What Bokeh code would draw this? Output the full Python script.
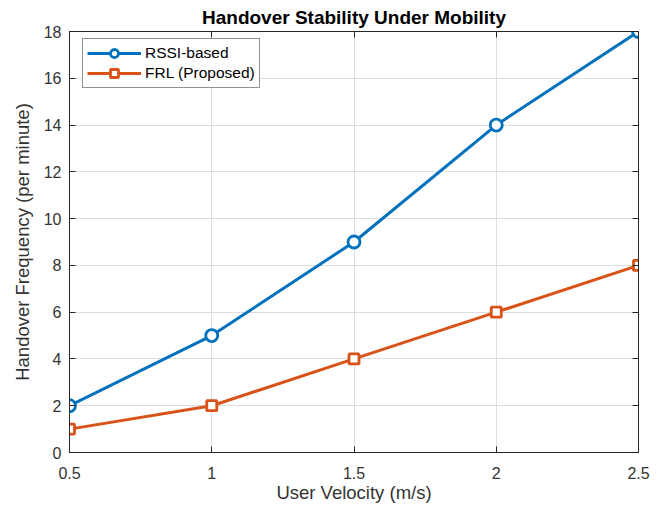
from bokeh.plotting import figure
from bokeh.models import (LinearAxis, FixedTicker, Range1d, Legend, LegendItem)
from bokeh.embed import file_html
from bokeh.resources import INLINE

velocity = [0.5, 1.0, 1.5, 2.0, 2.5]
rssi_based = [2, 5, 9, 14, 18]
frl_proposed = [1, 2, 4, 6, 8]
x_ticks = [0.5, 1, 1.5, 2, 2.5]
y_ticks = [0, 2, 4, 6, 8, 10, 12, 14, 16, 18]

BLUE = "#0072BD"
ORANGE = "#D95319"
AX = "#262626"
FONT = "Liberation Sans"

p = figure(width=660, height=507, output_backend="svg", toolbar_location=None,
           x_range=Range1d(0.5, 2.5), y_range=Range1d(0, 18),
           min_border_left=69, min_border_right=22, min_border_top=31, min_border_bottom=55)
p.background_fill_color = "white"
p.border_fill_color = "white"
p.outline_line_color = AX
p.outline_line_width = 1

p.title.text = "Handover Stability Under Mobility"
p.title.align = "center"
p.title.text_font = FONT
p.title.text_font_size = "19px"
p.title.text_font_style = "bold"
p.title.text_color = "black"
p.title.standoff = 7

def style_axis(ax, standoff=8, size="16px"):
    ax.major_tick_in = 6
    ax.major_tick_out = 0
    ax.minor_tick_in = 0
    ax.minor_tick_out = 0
    ax.axis_line_color = AX
    ax.major_tick_line_color = AX
    ax.major_label_text_font = FONT
    ax.major_label_text_color = "#333333"
    ax.major_label_text_font_size = size
    ax.major_label_standoff = standoff

p.xaxis.ticker = FixedTicker(ticks=x_ticks)
p.yaxis.ticker = FixedTicker(ticks=y_ticks)
p.xaxis.major_label_overrides = {0.5: "0.5", 1: "1", 1.5: "1.5", 2: "2", 2.5: "2.5"}
style_axis(p.xaxis[0], 14)
style_axis(p.yaxis[0], 8)
p.xaxis.axis_label = "User Velocity (m/s)"
p.yaxis.axis_label = "Handover Frequency (per minute)"
for ax in (p.xaxis[0], p.yaxis[0]):
    ax.axis_label_text_font = FONT
    ax.axis_label_text_font_size = "18.5px"
    ax.axis_label_text_font_style = "normal"
    ax.axis_label_text_color = "#333333"
p.xaxis.axis_label_standoff = 0
p.yaxis.axis_label_standoff = 8

top = LinearAxis(ticker=FixedTicker(ticks=x_ticks),
                 major_label_overrides={t: "" for t in x_ticks})
right = LinearAxis(ticker=FixedTicker(ticks=y_ticks),
                   major_label_overrides={t: "" for t in y_ticks})
style_axis(top, 0, "1px")
style_axis(right, 0, "1px")
p.add_layout(top, "above")
p.add_layout(right, "right")

p.grid.grid_line_color = "#dedede"
p.xgrid.ticker = FixedTicker(ticks=x_ticks)
p.ygrid.ticker = FixedTicker(ticks=y_ticks)

l1 = p.line(velocity, rssi_based, line_color=BLUE, line_width=3)
s1 = p.scatter(velocity, rssi_based, marker="circle", size=12, line_color=BLUE,
               line_width=2.8, fill_color="white")
l2 = p.line(velocity, frl_proposed, line_color=ORANGE, line_width=3)
s2 = p.scatter(velocity, frl_proposed, marker="square", size=10, line_color=ORANGE,
               line_width=2.8, fill_color="white")

legend = Legend(items=[LegendItem(label="RSSI-based", renderers=[l1, s1]),
                       LegendItem(label="FRL (Proposed)", renderers=[l2, s2])],
                location=(13, 364))
legend.label_text_font = FONT
legend.label_text_font_size = "15.5px"
legend.label_text_color = "black"
legend.border_line_color = AX
legend.border_line_width = 1
legend.glyph_width = 54
legend.glyph_height = 20
legend.label_height = 20
legend.label_standoff = 4
legend.spacing = 0
legend.padding = 4
legend.margin = 0
legend.background_fill_color = "white"
legend.background_fill_alpha = 1
p.add_layout(legend, "center")

open("out.html", "w").write(file_html(p, INLINE))
